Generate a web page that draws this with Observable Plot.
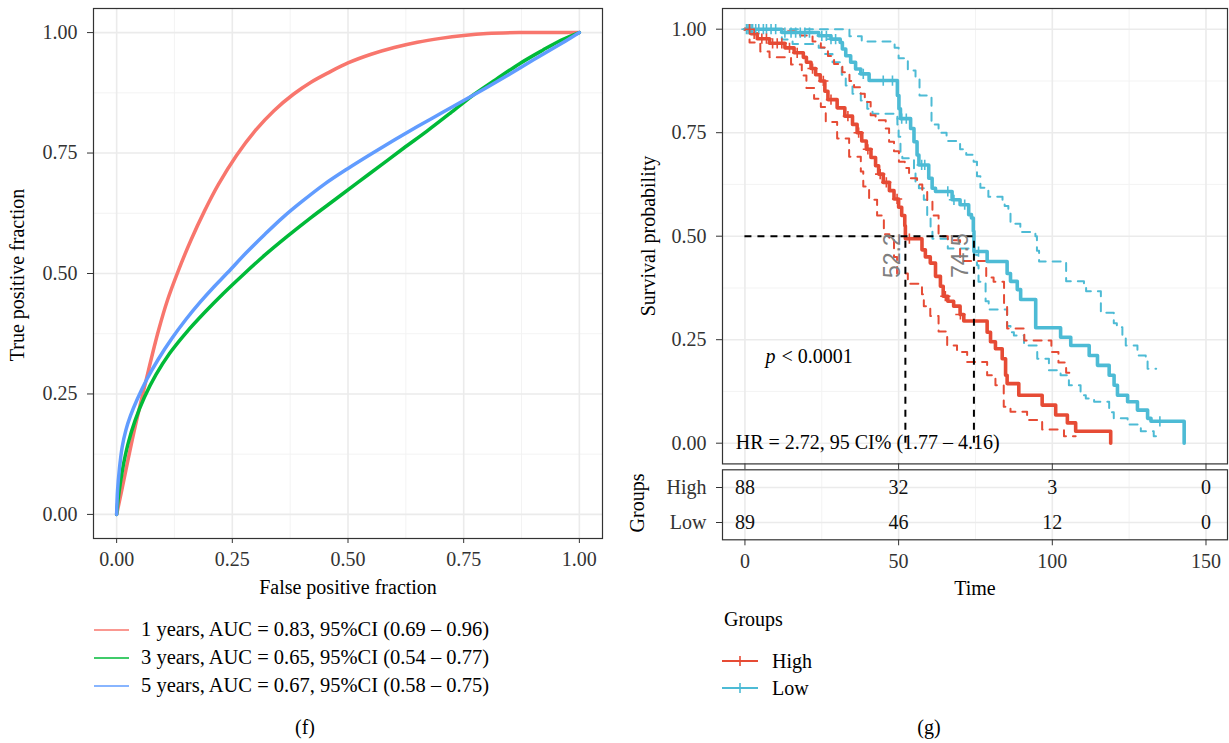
<!DOCTYPE html>
<html><head><meta charset="utf-8">
<script src="https://cdn.jsdelivr.net/npm/d3@7"></script>
<script src="https://cdn.jsdelivr.net/npm/@observablehq/plot@0.6"></script>
<style>
html,body{margin:0;padding:0;background:#fff}
body{width:1229px;height:743px;position:relative;overflow:hidden;font-family:"Liberation Serif",serif;color:#000}
.p{position:absolute;top:0}
.t{position:absolute;font-size:20px;line-height:1.15;white-space:nowrap;color:#000}
.c{transform:translate(-50%,-50%)}
.l{transform:translateY(-50%)}
.r{transform:translate(-50%,-50%) rotate(-90deg)}
</style></head><body>
<div id="roc" class="p" style="left:0"></div>
<div id="km" class="p" style="left:620px"></div>
<div id="risk" class="p" style="left:620px;top:463px"></div>
<div class="t r" style="left:17px;top:275px">True positive fraction</div>
<div class="t c" style="left:348px;top:587px">False positive fraction</div>
<div class="t r" style="left:648px;top:236px">Survival probability</div>
<div class="t r" style="left:637px;top:503px">Groups</div>
<div class="t c" style="left:975px;top:588px">Time</div>
<div id="rocLegend"></div>
<div id="kmLegend"></div>
<div class="t c" style="left:305px;top:727px">(f)</div>
<div class="t c" style="left:929px;top:727px">(g)</div>
<script>
// ---------- ROC data ----------
const rocLabels = ["1 years, AUC = 0.83, 95%CI (0.69 – 0.96)", "3 years, AUC = 0.65, 95%CI (0.54 – 0.77)", "5 years, AUC = 0.67, 95%CI (0.58 – 0.75)"];
const rocColors = ["#F8766D", "#00BA38", "#619CFF"];
const rocTicks = [0, 0.25, 0.5, 0.75, 1];
const rocMinor = [0.125, 0.375, 0.625, 0.875];
const roc1 = [[0,0],[0.01,0.045],[0.02,0.092],[0.04,0.182],[0.065,0.284],[0.09,0.38],[0.11,0.445],[0.133,0.505],[0.16,0.568],[0.19,0.63],[0.22,0.685],[0.259,0.745],[0.3,0.797],[0.34,0.838],[0.382,0.872],[0.42,0.897],[0.46,0.918],[0.5,0.937],[0.55,0.955],[0.6,0.969],[0.65,0.98],[0.7,0.988],[0.75,0.994],[0.8,0.998],[0.87,1.0],[1,1]];
const roc3 = [[0,0],[0.003,0.03],[0.008,0.065],[0.015,0.105],[0.025,0.148],[0.04,0.195],[0.06,0.243],[0.085,0.29],[0.115,0.335],[0.15,0.377],[0.19,0.419],[0.23,0.458],[0.274,0.498],[0.32,0.538],[0.37,0.578],[0.42,0.616],[0.47,0.652],[0.52,0.688],[0.57,0.724],[0.62,0.76],[0.67,0.795],[0.72,0.832],[0.77,0.87],[0.82,0.903],[0.87,0.935],[0.92,0.963],[0.96,0.984],[1,1]];
const roc5 = [[0,0],[0.002,0.05],[0.006,0.095],[0.012,0.14],[0.02,0.175],[0.03,0.205],[0.045,0.24],[0.065,0.28],[0.09,0.322],[0.12,0.366],[0.15,0.405],[0.18,0.44],[0.21,0.472],[0.24,0.502],[0.28,0.543],[0.32,0.581],[0.36,0.617],[0.4,0.649],[0.45,0.686],[0.5,0.718],[0.55,0.748],[0.6,0.777],[0.65,0.805],[0.7,0.832],[0.75,0.859],[0.8,0.886],[0.85,0.914],[0.9,0.943],[0.95,0.971],[1,1]];

// ---------- Kaplan-Meier data ----------
const groups = ["High", "Low"];
const groupColors = ["#E64B35", "#4DBBD5"];
const survTicks = [0, 0.25, 0.5, 0.75, 1];
const survMinor = [0.125, 0.375, 0.625, 0.875];
const timeTicks = [0, 50, 100, 150];
const timeMinor = [25, 75, 125];
const highT = [0,2,4,8,13,16,19,20,21.5,23,24.5,26,27,30,32.5,35,36.5,38,39.5,41,42.5,43.5,45,47,48.5,50,51,52,52.2,57.6,58.7,60.3,62,63.6,64.5,66,67.9,70,71.2,78.8,79.9,81.5,83.7,84.8,85.3,89.1,96.7,101.1,104.9,107.6,119];
const highS = [1,0.989,0.977,0.966,0.955,0.943,0.932,0.92,0.905,0.89,0.875,0.85,0.83,0.81,0.79,0.77,0.75,0.73,0.71,0.69,0.67,0.65,0.63,0.61,0.59,0.57,0.55,0.525,0.494,0.467,0.45,0.435,0.403,0.379,0.355,0.343,0.331,0.311,0.295,0.268,0.245,0.228,0.204,0.164,0.144,0.116,0.092,0.068,0.049,0.029,0];
const lowT = [0,12,24,28,31,31.7,32.8,34.4,36,37.7,40.4,49.6,50.1,50.6,53.9,55,56,56.6,59.8,60.9,62,67.4,70,72.8,73.7,74.3,74.5,78.8,85.3,86.4,88.6,89.7,94.6,102.7,106,112,114.7,118.5,120.1,121.2,124.5,127.7,131,132.1,142.9];
const lowS = [1,0.992,0.984,0.976,0.968,0.952,0.936,0.92,0.904,0.892,0.876,0.84,0.808,0.784,0.76,0.728,0.696,0.672,0.64,0.616,0.608,0.588,0.576,0.552,0.544,0.512,0.463,0.439,0.41,0.391,0.371,0.347,0.279,0.256,0.236,0.212,0.188,0.164,0.14,0.116,0.1,0.08,0.06,0.053,0];
const highUpT = [0,14,18,22,24.7,27,29,31.7,34,35.5,37.7,39,40.9,42.5,45.8,46.9,48.5,50.1,52,53.4,56,57.7,59.3,61,63,66,70,78.5,80.9,84.3,85.3,90.9,99.7,102,104.5,107.6];
const highUpS = [1,0.995,0.985,0.97,0.956,0.935,0.916,0.896,0.875,0.86,0.844,0.824,0.792,0.78,0.76,0.728,0.705,0.68,0.665,0.64,0.625,0.608,0.584,0.55,0.5,0.49,0.44,0.4,0.39,0.33,0.277,0.248,0.22,0.195,0.17,0.17];
const highLoT = [0,1.5,5,8,15,18.5,20,22.5,24.7,26.3,30,33.9,37.7,38.5,40.4,43,45.2,47,48.5,49.5,53,57.6,58.2,60.3,63,65.8,69,72.3,78.8,81.5,84.2,86.4,91.8,96.7,103.8,107.6];
const highLoS = [1,0.968,0.946,0.932,0.915,0.888,0.858,0.832,0.812,0.776,0.736,0.692,0.656,0.62,0.588,0.55,0.505,0.49,0.45,0.41,0.385,0.36,0.331,0.307,0.27,0.236,0.22,0.196,0.164,0.14,0.088,0.076,0.056,0.033,0.017,0.017];
const lowUpT = [0,34,38,48.7,50,53,55.5,56.8,60.7,63,65.6,70,72,74.4,75.5,76.6,79.2,83.8,84.5,85.7,86.4,89.6,94.5,95,95.7,104.5,110.3,111,115.8,120,121,122.8,123.9,127.7,130.4,131,133.8];
const lowUpS = [1,0.983,0.97,0.955,0.93,0.9,0.88,0.84,0.77,0.75,0.73,0.71,0.697,0.68,0.645,0.617,0.595,0.585,0.573,0.556,0.53,0.51,0.5,0.465,0.439,0.391,0.38,0.367,0.315,0.29,0.28,0.26,0.236,0.212,0.2,0.18,0.18];
const lowLoT = [0,12,15.5,24,25.8,28.5,31.5,32.8,35,37.7,39.8,41.5,49.6,50,50.6,51.2,55,55.5,56.6,58.2,59.3,60.4,61,66,74.5,75.5,76,78.3,79.3,85.3,86.4,87.5,90.8,95.1,98.9,102.7,105.4,109.2,110.9,113.6,118.5,120,124.5,128.8,133,135];
const lowLoS = [1,0.975,0.964,0.955,0.94,0.92,0.89,0.864,0.844,0.828,0.808,0.796,0.77,0.74,0.7,0.688,0.664,0.63,0.616,0.588,0.544,0.512,0.494,0.47,0.455,0.43,0.39,0.343,0.323,0.283,0.268,0.26,0.236,0.204,0.176,0.164,0.14,0.116,0.108,0.1,0.075,0.06,0.045,0.029,0.017,0.017];
const highCensorT = [1.5,3,5.5,7,9,10.5,12,14.5,17,22,25.5,28,33.5,37,40,44,46,49.5,53.5,65.2,70.1];
const lowCensorT = [0.5,1,1.5,2,2.5,3.5,4.5,6,7,8.5,10,13,15,16.5,18,19.5,21,25,26.5,28,29.5,38.5,45,48,51,52.5,57.5,58.5,66,68,71.5,76,135];
const medians = [52.2, 74.5];
const pLabel = ["p", "< 0.0001"];
const hrLabel = "HR = 2.72, 95 CI% (1.77 – 4.16)";
const riskTimes = [0, 50, 100, 150];
const riskHigh = [88, 32, 3, 0];
const riskLow = [89, 46, 12, 0];

// ---------- helpers ----------
const FONT = '"Liberation Serif", serif';
const fmt2 = d3.format(".2f");
const series = (T, S) => T.map((t, i) => ({t, s: S[i]}));
const stepAt = (T, S, t) => S[d3.bisectRight(T, t) - 1];
const gridMajor = {stroke: "#ebebeb", strokeOpacity: 1, strokeWidth: 1.6};
const gridMinor = {stroke: "#f2f2f2", strokeOpacity: 1, strokeWidth: 0.9};
const baseStyle = {fontFamily: FONT, fontSize: "20px", background: "transparent", overflow: "visible", color: "#333"};

// ---------- ROC plot ----------
const rocPlot = Plot.plot({
  width: 620, height: 600,
  marginLeft: 93, marginRight: 18, marginTop: 8, marginBottom: 62,
  x: {domain: [-0.05, 1.05]}, y: {domain: [-0.05, 1.05]},
  style: baseStyle,
  marks: [
    Plot.gridX(rocMinor, gridMinor), Plot.gridY(rocMinor, gridMinor),
    Plot.gridX(rocTicks, gridMajor), Plot.gridY(rocTicks, gridMajor),
    ...[roc1, roc3, roc5].map((arr, k) => Plot.line(arr, {x: d => d[0], y: d => d[1], stroke: rocColors[k], strokeWidth: 3.5, curve: "catmull-rom"})),
    Plot.frame({stroke: "#333", strokeWidth: 1.2}),
    Plot.axisX(rocTicks, {tickFormat: fmt2, tickSize: 5, tickPadding: 8, fontSize: 20, color: "#333", label: null}),
    Plot.axisY(rocTicks, {tickFormat: fmt2, tickSize: 6, tickPadding: 10, fontSize: 20, color: "#333", label: null})
  ]
});
document.getElementById("roc").append(rocPlot);

// ---------- KM plot ----------
const dashOpt = {x: "t", y: "s", curve: "step-after", strokeWidth: 2, strokeDasharray: "8,7"};
const solidOpt = {x: "t", y: "s", curve: "step-after", strokeWidth: 3.6};
const highCens = highCensorT.map(t => ({t, s: stepAt(highT, highS, t)}));
const lowCens = lowCensorT.map(t => ({t, s: stepAt(lowT, lowS, t)}));
const xDom = [-7.3, 157];
const kmPlot = Plot.plot({
  width: 609, height: 480,
  marginLeft: 102, marginRight: 2, marginTop: 8, marginBottom: 16.6,
  x: {domain: xDom}, y: {domain: [-0.05, 1.05]},
  style: baseStyle,
  marks: [
    Plot.gridX(timeMinor, gridMinor), Plot.gridY(survMinor, gridMinor),
    Plot.gridX(timeTicks, gridMajor), Plot.gridY(survTicks, gridMajor),
    Plot.line(series(lowUpT, lowUpS), {...dashOpt, stroke: groupColors[1]}),
    Plot.line(series(lowLoT, lowLoS), {...dashOpt, stroke: groupColors[1]}),
    Plot.line(series(highUpT, highUpS), {...dashOpt, stroke: groupColors[0]}),
    Plot.line(series(highLoT, highLoS), {...dashOpt, stroke: groupColors[0]}),
    Plot.line(series(lowT, lowS), {...solidOpt, stroke: groupColors[1]}),
    Plot.line(series(highT, highS), {...solidOpt, stroke: groupColors[0]}),
    Plot.dot(lowCens, {x: "t", y: "s", symbol: "plus", r: 3.4, stroke: groupColors[1], strokeWidth: 1.6}),
    Plot.dot(highCens, {x: "t", y: "s", symbol: "plus", r: 3.4, stroke: groupColors[0], strokeWidth: 1.6}),
    Plot.ruleY([0.5], {x1: 0, x2: d3.max(medians), stroke: "#000", strokeWidth: 2, strokeDasharray: "7,6"}),
    Plot.ruleX(medians, {y1: 0, y2: 0.5, stroke: "#000", strokeWidth: 2, strokeDasharray: "7,6"}),
    Plot.text(medians, {x: d => d, y: 0.5, text: d => d.toFixed(1), rotate: -90, textAnchor: "end", lineAnchor: "middle", dx: -13, dy: -3, fill: "#7f7f7f", fontFamily: '"Liberation Sans", sans-serif', fontSize: 23}),
    Plot.text([pLabel[0]], {x: 6.7, y: 0.21, text: d => d, textAnchor: "start", fontStyle: "italic", fill: "#000", fontSize: 20}),
    Plot.text([pLabel[1]], {x: 6.7, y: 0.21, text: d => d, textAnchor: "start", dx: 16, fill: "#000", fontSize: 20}),
    Plot.text([hrLabel], {x: -3, y: 0, text: d => d, textAnchor: "start", dy: -1, fill: "#000", fontSize: 20}),
    Plot.frame({stroke: "#333", strokeWidth: 1.2}),
    Plot.axisY(survTicks, {tickFormat: fmt2, tickSize: 6, tickPadding: 10, fontSize: 20, color: "#333", label: null}),
    Plot.axisX(timeTicks, {tickFormat: () => "", tickSize: 6, color: "#333", label: null})
  ]
});
document.getElementById("km").append(kmPlot);

// ---------- risk table ----------
const riskRows = riskTimes.flatMap((t, i) => [{t, g: groups[0], n: riskHigh[i]}, {t, g: groups[1], n: riskLow[i]}]);
const riskPlot = Plot.plot({
  width: 609, height: 140,
  marginLeft: 102, marginRight: 2, marginTop: 6.3, marginBottom: 63.7,
  x: {domain: xDom}, y: {type: "point", domain: groups, padding: 0.5},
  style: baseStyle,
  marks: [
    Plot.gridX(timeMinor, gridMinor),
    Plot.gridX(timeTicks, gridMajor), Plot.gridY(groups, gridMajor),
    Plot.text(riskRows, {x: "t", y: "g", text: d => String(d.n), fill: "#111", fontSize: 20}),
    Plot.frame({stroke: "#333", strokeWidth: 1.2}),
    Plot.axisX(timeTicks, {tickSize: 6, tickPadding: 8, fontSize: 20, color: "#333", label: null}),
    Plot.axisY(groups, {tickSize: 6, tickPadding: 10, fontSize: 20, color: "#333", label: null})
  ]
});
document.getElementById("risk").append(riskPlot);

// ---------- legends ----------
document.getElementById("rocLegend").innerHTML = rocLabels.map((lab, i) =>
  `<svg style="position:absolute;left:93px;top:${630 + 28 * i - 5}px" width="38" height="10"><line x1="1" x2="36" y1="5" y2="5" stroke="${rocColors[i]}" stroke-width="1.6"/></svg>` +
  `<div class="t l" style="left:141px;top:${630 + 28 * i}px;font-size:20.5px">${lab}</div>`).join("");
document.getElementById("kmLegend").innerHTML =
  `<div class="t l" style="left:724px;top:619px">Groups</div>` +
  groups.map((g, i) =>
    `<svg style="position:absolute;left:721px;top:${661 + 27 * i - 8}px" width="38" height="16"><line x1="1" x2="37" y1="8" y2="8" stroke="${groupColors[i]}" stroke-width="2"/><line x1="19" x2="19" y1="3" y2="13" stroke="${groupColors[i]}" stroke-width="1.6"/><line x1="14" x2="24" y1="8" y2="8" stroke="${groupColors[i]}" stroke-width="1.6"/></svg>` +
    `<div class="t l" style="left:772px;top:${661 + 27 * i}px">${g}</div>`).join("");
</script>
</body></html>
